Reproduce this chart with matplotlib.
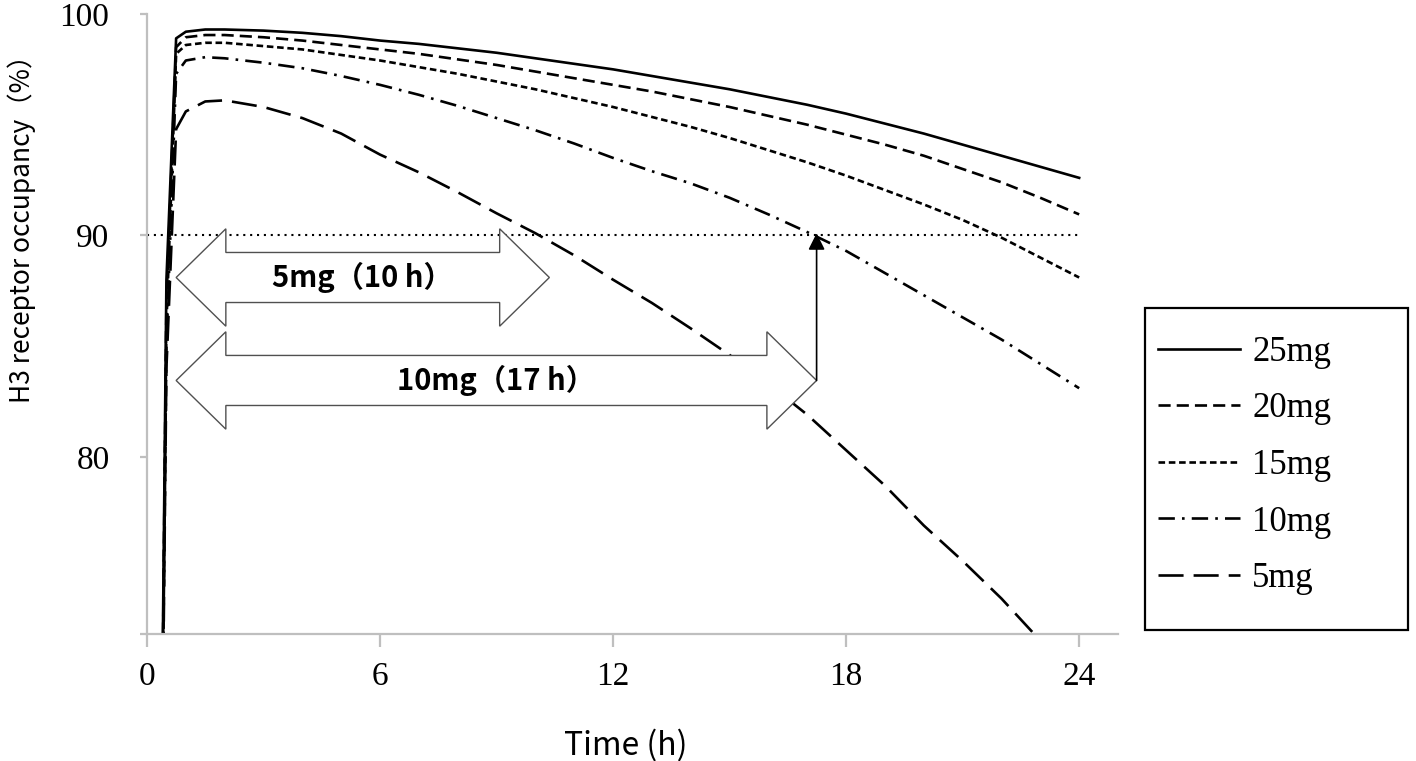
import matplotlib
matplotlib.use("Agg")
import matplotlib.pyplot as plt
from matplotlib.patches import Polygon, Rectangle
import numpy as np

# time points (h)
hours = [0, 0.5, 0.75, 1, 1.5, 2, 3, 4, 5, 6, 7, 8, 9, 10, 11, 12,
         13, 14, 15, 16, 17, 18, 19, 20, 21, 22, 23, 24]

# H3 receptor occupancy (%) for each dose
occ_25mg = [0, 88.0, 98.9, 99.2, 99.3, 99.3, 99.25, 99.15, 99.0, 98.8, 98.65, 98.45,
            98.25, 98.0, 97.75, 97.5, 97.2, 96.9, 96.6, 96.25, 95.9, 95.5, 95.05,
            94.6, 94.1, 93.6, 93.1, 92.6]
occ_20mg = [0, 87.0, 98.5, 98.95, 99.05, 99.05, 98.95, 98.8, 98.6, 98.4, 98.2, 97.95,
            97.7, 97.4, 97.1, 96.8, 96.5, 96.15, 95.8, 95.4, 95.0, 94.55, 94.1,
            93.6, 93.0, 92.4, 91.7, 90.95]
occ_15mg = [0, 86.0, 98.2, 98.6, 98.7, 98.7, 98.55, 98.4, 98.15, 97.9, 97.6, 97.3,
            96.95, 96.6, 96.2, 95.8, 95.35, 94.9, 94.4, 93.85, 93.3, 92.7, 92.05,
            91.4, 90.7, 89.9, 89.0, 88.1]
occ_10mg = [0, 85.0, 97.3, 97.9, 98.05, 98.0, 97.8, 97.55, 97.2, 96.8, 96.35, 95.85,
            95.3, 94.75, 94.15, 93.5, 92.9, 92.35, 91.7, 90.95, 90.15, 89.3, 88.3,
            87.3, 86.3, 85.3, 84.2, 83.1]
occ_5mg = [0, 84.0, 94.8, 95.6, 96.05, 96.1, 95.8, 95.3, 94.6, 93.65, 92.85, 91.95,
           91.0, 90.1, 89.1, 88.0, 86.95, 85.8, 84.6, 83.3, 81.9, 80.3, 78.7,
           76.9, 75.3, 73.6, 71.7, 69.6]

doses = ["25mg", "20mg", "15mg", "10mg", "5mg"]
series = [occ_25mg, occ_20mg, occ_15mg, occ_10mg, occ_5mg]

threshold = 90
# duration arrows: (label, start h, end h, centre occupancy)
arrow_labels = ["5mg（10 h）", "10mg（17 h）"]
arrow_start = [0.75, 0.75]
arrow_end = [10.36, 17.24]
arrow_level = [88.1, 83.45]

x_ticks = [0, 6, 12, 18, 24]
y_ticks = [72, 80, 90, 100]
y_ticklabels = ["", "80", "90", "100"]

lw = 1.9
styles = ["-", (0, (4.6, 2.3)), (0, (2.5, 1.4)), (0, (6.2, 2.7, 1.0, 2.7)), (0, (9.5, 3.8))]

W, H = 1416, 761
fig = plt.figure(figsize=(W / 100, H / 100), dpi=100)
ax = fig.add_axes([147 / W, 1 - 634 / H, (1118 - 147) / W, (634 - 14) / H])

lines = []
for name, vals, ls in zip(doses, series, styles):
    ln, = ax.plot(hours, vals, color="black", lw=lw, linestyle=ls, label=name, zorder=2)
    lines.append(ln)

ax.hlines(threshold, 0, 24, colors="black", linestyles=(0, (1, 2.3)), lw=1.5, zorder=2)


def block_arrow(x0, x1, yc, head_len=1.28, head_half=2.2, shaft_half=1.13):
    pts = [(x0, yc), (x0 + head_len, yc + head_half), (x0 + head_len, yc + shaft_half),
           (x1 - head_len, yc + shaft_half), (x1 - head_len, yc + head_half), (x1, yc),
           (x1 - head_len, yc - head_half), (x1 - head_len, yc - shaft_half),
           (x0 + head_len, yc - shaft_half), (x0 + head_len, yc - head_half)]
    ax.add_patch(Polygon(pts, closed=True, facecolor="white", edgecolor="#505050",
                         lw=1.0, zorder=3))


for lab, a, b, yc in zip(arrow_labels, arrow_start, arrow_end, arrow_level):
    block_arrow(a, b, yc)
    ax.text((a + b) / 2, yc, lab, ha="center", va="center", fontsize=21,
            fontweight="bold", family=["Noto Sans CJK JP", "DejaVu Sans"], zorder=4)

# arrow from the 10mg duration to the threshold line
ax.annotate("", xy=(arrow_end[1], threshold + 0.1), xytext=(arrow_end[1], arrow_level[1]),
            arrowprops=dict(arrowstyle="-|>,head_length=0.5,head_width=0.25",
                            color="black", lw=1.2, mutation_scale=20,
                            shrinkA=0, shrinkB=0), zorder=4)

ax.set_xlim(0, 25)
ax.set_ylim(72, 100)
ax.set_xticks(x_ticks)
ax.set_yticks(y_ticks)
ax.set_yticklabels(y_ticklabels)
for s in ["top", "right"]:
    ax.spines[s].set_visible(False)
for s in ["left", "bottom"]:
    ax.spines[s].set_color("#bfbfbf")
    ax.spines[s].set_linewidth(1.6)
ax.tick_params(axis="x", direction="out", length=9, width=1.6, color="#bfbfbf",
               pad=11, labelsize=24)
ax.tick_params(axis="y", direction="out", length=5, width=1.6, color="#bfbfbf",
               pad=22, labelsize=24)
for t in ax.get_xticklabels() + ax.get_yticklabels():
    t.set_family("Liberation Serif")

fig.text(22 / W, 1 - 222 / H, "H3 receptor occupancy（%）", rotation=90,
         ha="center", va="center", fontsize=19, family=["Noto Sans CJK JP", "DejaVu Sans"])
fig.text(626 / W, 1 - 745 / H, "Time (h)", ha="center", va="center", fontsize=23,
         family=["Noto Sans CJK JP", "DejaVu Sans"])

# legend with a hand-sized frame
leg = fig.legend(handles=lines, loc="center left",
                 bbox_to_anchor=(1158 / W, 1 - 465.5 / H), frameon=False,
                 borderpad=0, borderaxespad=0, handlelength=2.36, handletextpad=0.35,
                 labelspacing=0.68, prop={"family": "Liberation Serif", "size": 25})
fig.patches.append(Rectangle((1145 / W, 1 - 630 / H), (1408 - 1145) / W, (630 - 308) / H,
                             transform=fig.transFigure, fill=False, edgecolor="black",
                             lw=1.6))

fig.savefig("out.png", dpi=100)
